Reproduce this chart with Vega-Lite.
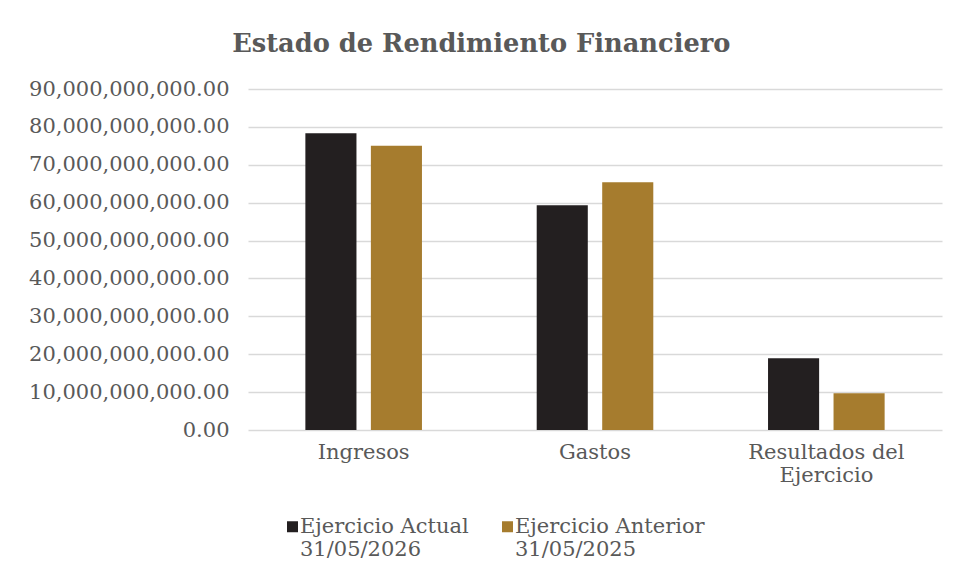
{
  "$schema": "https://vega.github.io/schema/vega-lite/v6.json",
  "autosize": "none",
  "width": 694,
  "height": 341,
  "padding": {"left": 248, "top": 89, "right": 16, "bottom": 150},
  "background": "white",
  "title": {
    "text": "Estado de Rendimiento Financiero",
    "font": "DejaVu Serif",
    "fontSize": 25.7,
    "fontWeight": "bold",
    "color": "#595959",
    "anchor": "middle",
    "frame": "bounds",
    "baseline": "alphabetic",
    "offset": 0,
    "dx": -4
  },
  "data": {
    "values": [
      {"categoria": "Ingresos", "serie": "Ejercicio Actual|31/05/2026", "valor": 78300000000},
      {"categoria": "Ingresos", "serie": "Ejercicio Anterior|31/05/2025", "valor": 75000000000},
      {"categoria": "Gastos", "serie": "Ejercicio Actual|31/05/2026", "valor": 59300000000},
      {"categoria": "Gastos", "serie": "Ejercicio Anterior|31/05/2025", "valor": 65400000000},
      {"categoria": "Resultados del|Ejercicio", "serie": "Ejercicio Actual|31/05/2026", "valor": 18950000000},
      {"categoria": "Resultados del|Ejercicio", "serie": "Ejercicio Anterior|31/05/2025", "valor": 9700000000}
    ]
  },
  "mark": {"type": "bar"},
  "encoding": {
    "x": {
      "field": "categoria",
      "type": "nominal",
      "sort": ["Ingresos", "Gastos", "Resultados del|Ejercicio"],
      "scale": {"paddingInner": 0.496, "paddingOuter": 0.248},
      "axis": {
        "title": null,
        "ticks": false,
        "domain": false,
        "labelAngle": 0,
        "labelPadding": 11,
        "labelFont": "DejaVu Serif",
        "labelFontSize": 21,
        "labelColor": "#595959",
        "labelLineHeight": 23,
        "labelExpr": "split(datum.label, '|')"
      }
    },
    "xOffset": {
      "field": "serie",
      "sort": ["Ejercicio Actual|31/05/2026", "Ejercicio Anterior|31/05/2025"],
      "scale": {"paddingInner": 0.22, "paddingOuter": 0}
    },
    "y": {
      "field": "valor",
      "type": "quantitative",
      "scale": {"domain": [0, 90000000000], "nice": false},
      "axis": {
        "title": null,
        "values": [0, 10000000000, 20000000000, 30000000000, 40000000000, 50000000000, 60000000000, 70000000000, 80000000000, 90000000000],
        "format": ",.2f",
        "ticks": false,
        "domain": false,
        "labelPadding": 19,
        "labelLimit": 400,
        "labelFont": "DejaVu Serif",
        "labelFontSize": 21,
        "labelColor": "#595959",
        "gridColor": "#d9d9d9",
        "gridWidth": 1.3
      }
    },
    "color": {
      "field": "serie",
      "type": "nominal",
      "scale": {
        "domain": ["Ejercicio Actual|31/05/2026", "Ejercicio Anterior|31/05/2025"],
        "range": ["#231f20", "#a67c2e"]
      },
      "legend": {
        "title": null,
        "orient": "none",
        "direction": "horizontal",
        "legendX": 34,
        "legendY": 427,
        "symbolType": "square",
        "symbolSize": 121,
        "symbolStrokeWidth": 0,
        "labelOffset": -3,
        "labelFont": "DejaVu Serif",
        "labelFontSize": 21,
        "labelColor": "#595959",
        "labelExpr": "split(datum.label, '|')",
        "labelLimit": 400,
        "columnPadding": 28
      }
    }
  },
  "config": {"view": {"stroke": null}}
}
